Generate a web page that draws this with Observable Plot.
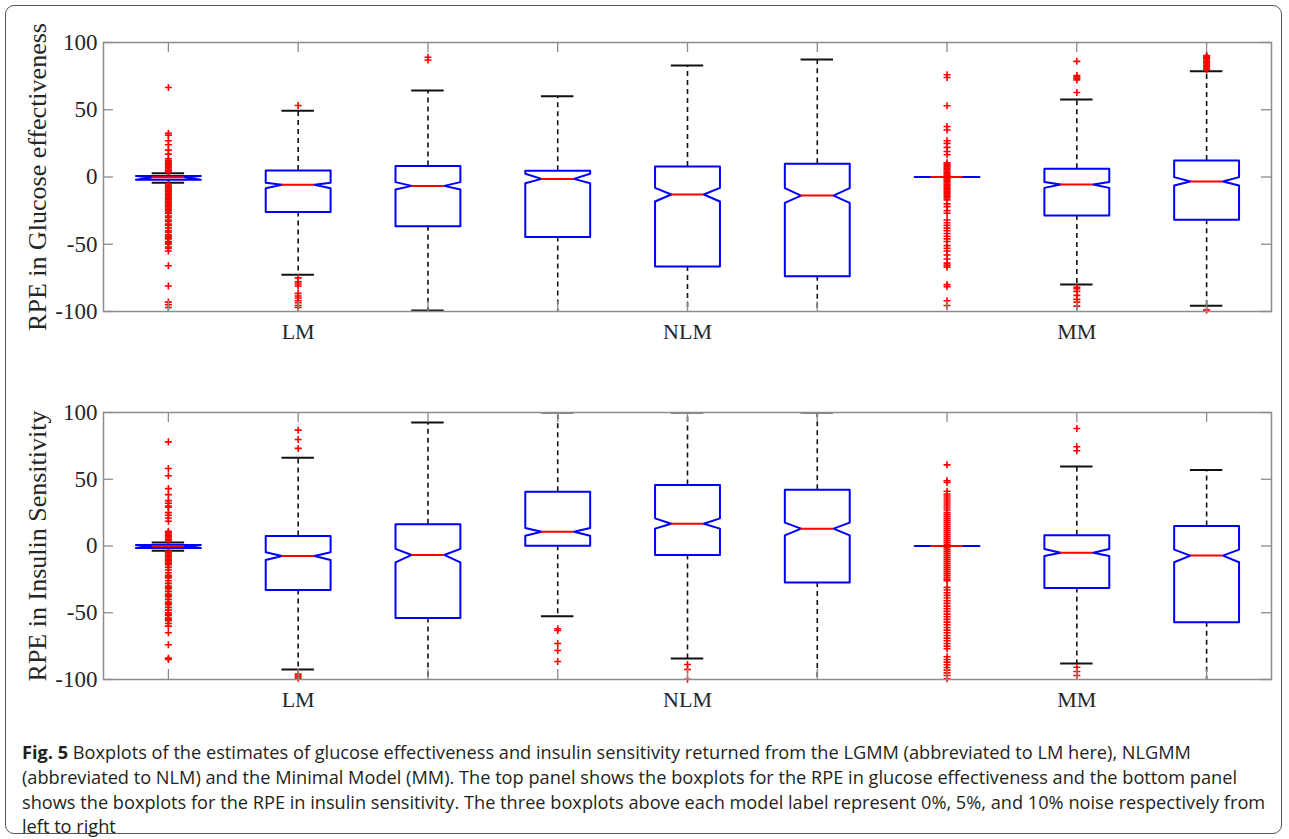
<!DOCTYPE html>
<html><head><meta charset="utf-8">
<script src="https://cdn.jsdelivr.net/npm/d3@7"></script>
<script src="https://cdn.jsdelivr.net/npm/@observablehq/plot@0.6"></script>
<style>
body{margin:0;background:#fff;}
#page{position:relative;width:1289px;height:839px;overflow:hidden;background:#fff;}
#border{position:absolute;left:5px;top:5px;width:1277px;height:829px;border:1.5px solid #555;border-radius:9px;box-sizing:border-box;}
#top,#bottom{position:absolute;left:0;}
#top{top:0}
#bottom{top:370px}
#caption{position:absolute;left:22px;top:740px;font-family:"Open Sans",sans-serif;font-size:18.2px;line-height:24.8px;color:#231f20;white-space:nowrap;}
#caption b{font-weight:700;}
</style></head>
<body><div id="page"><div id="border"></div><div id="top"></div><div id="bottom"></div>
<div id="caption"></div></div>
<script>
// ---------- data ----------
const positions = [1, 2, 3, 4, 5, 6, 7, 8, 9];
const groupTicks = [2, 5, 8];
const groupLabels = ["LM", "NLM", "MM"];
const yTicks = [-100, -50, 0, 50, 100];
const yTitleTop = "RPE in Glucose effectiveness";
const yTitleBottom = "RPE in Insulin Sensitivity";

// Top panel: RPE in glucose effectiveness (LM 0/5/10%, NLM 0/5/10%, MM 0/5/10%)
const geQ3 = [0.7, 4.8, 8.1, 4.6, 7.8, 9.8, 0, 6.1, 12.3];
const geQ1 = [-2.0, -26.1, -36.6, -44.7, -66.5, -73.7, 0, -28.6, -31.8];
const geMedian = [-0.2, -5.8, -6.6, -1.4, -13.0, -13.8, 0, -5.6, -3.3];
const geNotchHi = [0.7, -4.3, -3.8, 2.4, -8.1, -8.3, 0, -3.8, -0.1];
const geNotchLo = [-2.0, -8.3, -9.3, -4.6, -18.2, -19.2, 0, -8.1, -6.3];
const geWhiskerHi = [2.8, 49.2, 64.3, 60.1, 82.9, 87.4, 0, 57.6, 78.7];
const geWhiskerLo = [-4.2, -72.7, -99.3, -101, -101, -101, 0, -79.9, -95.8];
const geOutliers = [
  [66.5, 32.5, 31, 27, 24, 20, 17, 13.5, 12, 11, 10, 9, 8, 7, 6, 5, 4, 3.5, -5, -6, -7, -8, -9, -10, -11, -12, -13, -14, -15, -16, -17, -18, -19, -20, -21, -22, -23, -24, -25, -26, -27, -29, -30, -32, -33, -35, -36, -38, -40, -41, -43, -44, -45, -46, -48, -49, -50, -52, -53, -55, -66, -81, -93, -95, -97],
  [53.2, -75, -78, -79.5, -81, -86.5, -88.5, -90, -92, -93.5, -95.5, -97],
  [87, 89],
  [],
  [],
  [],
  [76, 74, 53, 37.5, 35, 27, 25, 22, 19, 16.5, 10.5, 9.5, 8.5, 7.5, 6.5, 5.5, 4.5, 3.5, 2.5, 1.5, 1, -1, -1.5, -2.5, -3.5, -4.5, -5.5, -6.5, -7.5, -8.5, -9.5, -10.5, -11.5, -12.5, -13.5, -14.5, -15.5, -17, -20, -22, -25, -27, -32, -34, -36, -38, -40, -42, -44, -46, -48, -51, -53, -55, -58, -61, -64, -65.5, -67, -80, -81.5, -92, -95.5],
  [86, 75.5, 74.5, 73.5, 72.2, 62.8, -82, -83, -85, -88, -91, -93, -96],
  [90.3, 89.5, 88.8, 88, 87, 86, 85, 84, 83, 82, 81, 80, 79.5, -98.8]
];

// Bottom panel: RPE in insulin sensitivity
const isQ3 = [0.7, 7.5, 16.2, 40.6, 45.6, 42.1, 0, 8.0, 15.0];
const isQ1 = [-1.5, -32.9, -53.9, 0.2, -6.7, -27.4, 0, -31.4, -57.1];
const isMedian = [-0.2, -7.5, -6.7, 10.7, 16.7, 13.0, 0, -5.0, -7.2];
const isNotchHi = [0.7, -4.7, -2.2, 13.5, 20.7, 17.5, 0, -2.2, -2.7];
const isNotchLo = [-1.5, -10.5, -12.2, 7.7, 13.0, 8.0, 0, -7.5, -12.2];
const isWhiskerHi = [2.7, 66.1, 92.5, 100, 100, 100, 0, 59.6, 56.9];
const isWhiskerLo = [-3.5, -92.5, -101, -52.6, -84.3, -101, 0, -88.0, -101];
const isOutliers = [
  [78, 58, 52.6, 43, 38.5, 34, 32, 30, 29, 25, 23, 21, 18.5, 11, 10, 9, 8, 7, 6, 5, 4, -4, -5, -6, -7, -8, -9, -10, -11, -12, -13, -14, -16, -18, -20, -22, -23, -24, -26, -28, -30, -31, -32, -34, -36, -37, -38, -40, -42, -43, -44, -46, -48, -50, -51, -52, -54, -55, -56, -58, -60, -65, -74, -84, -85],
  [86.8, 79.8, 73.1, -96, -97.5, -99],
  [],
  [-62, -63.3, -73, -78.3, -86.5],
  [-88.8, -92.5, -99.8],
  [],
  [60.8, 48.9, 47.6, 41, 39, 37.5, 36, 34.5, 33, 31.5, 30, 28.5, 27, 25, 23.5, 22, 20.5, 19, 17.5, 16, 14.5, 13, 11.5, 10, 8.5, 7, 5.5, 4, 2.5, 1, -1, -2.5, -4, -5.5, -7, -8.5, -10, -11.5, -13, -14.5, -16, -17.5, -19, -20.5, -22, -23.5, -25, -26, -31, -33, -35, -37, -39, -41, -43, -45, -47, -49, -51, -53, -55, -57, -59, -61, -63, -65, -67, -69, -71, -73, -75, -77, -83, -85, -87, -89, -91, -93, -95, -97, -99.5],
  [88, 74.3, 71.3, -90.8, -94, -97],
  []
];

const captionLines = [
  ["Fig. 5", " Boxplots of the estimates of glucose effectiveness and insulin sensitivity returned from the LGMM (abbreviated to LM here), NLGMM"],
  ["", "(abbreviated to NLM) and the Minimal Model (MM). The top panel shows the boxplots for the RPE in glucose effectiveness and the bottom panel"],
  ["", "shows the boxplots for the RPE in insulin sensitivity. The three boxplots above each model label represent 0%, 5%, and 10% noise respectively from"],
  ["", "left to right"]
];

// ---------- drawing ----------
const W = 1289, mL = 103, mR = 18;
const serif = "'Liberation Serif', 'Times New Roman', serif";
const boxHalf = 0.25;

function panel(el, st, outliers, yTitle, plotH, mT, mB) {
  const plotW = W - mL - mR;
  const tX = 10 / plotW * 9;      // inward tick length in x units
  const tY = 10 / plotH * 200;    // inward tick length in y units
  const boxes = positions.map((p, i) => ({
    pos: p, q1: st.q1[i], q3: st.q3[i], med: st.med[i],
    nlo: st.nlo[i], nhi: st.nhi[i], wlo: st.wlo[i], whi: st.whi[i]
  }));
  const poly = [];
  boxes.forEach((b, i) => {
    const x = b.pos, w = boxHalf;
    [[x - w, b.q1], [x - w, b.nlo], [x - w / 2, b.med], [x - w, b.nhi], [x - w, b.q3],
     [x + w, b.q3], [x + w, b.nhi], [x + w / 2, b.med], [x + w, b.nlo], [x + w, b.q1], [x - w, b.q1]]
      .forEach(([px, py]) => poly.push({id: i, x: px, y: py}));
  });
  const outs = [];
  outliers.forEach((arr, i) => arr.forEach(v => outs.push({pos: positions[i], v})));
  const upper = boxes.filter(b => b.whi > b.q3);
  const lower = boxes.filter(b => b.wlo < b.q1);

  const svg = Plot.plot({
    width: W, height: mT + plotH + mB,
    marginLeft: mL, marginRight: mR, marginTop: mT, marginBottom: mB,
    x: {domain: [0.5, 9.5]},
    y: {domain: [-100, 100]},
    style: {fontFamily: serif, fontSize: "22px", color: "#262626", background: "transparent", overflow: "visible"},
    marks: [
      Plot.ruleX(upper, {x: "pos", y1: "q3", y2: "whi", stroke: "#111", strokeWidth: 1.6, strokeDasharray: "5,4", clip: true}),
      Plot.ruleX(lower, {x: "pos", y1: "q1", y2: "wlo", stroke: "#111", strokeWidth: 1.6, strokeDasharray: "5,4", clip: true}),
      Plot.ruleY(upper, {y: "whi", x1: d => d.pos - boxHalf / 2, x2: d => d.pos + boxHalf / 2, stroke: "#111", strokeWidth: 2, clip: true}),
      Plot.ruleY(lower, {y: "wlo", x1: d => d.pos - boxHalf / 2, x2: d => d.pos + boxHalf / 2, stroke: "#111", strokeWidth: 2, clip: true}),
      Plot.dot(outs, {x: "pos", y: "v", symbol: "plus", r: 2.4, stroke: "#ff0000", strokeWidth: 1.6}),
      Plot.line(poly, {x: "x", y: "y", z: "id", stroke: "#0000ff", strokeWidth: 2, curve: "linear"}),
      Plot.ruleY(boxes, {y: "med", x1: d => d.pos - boxHalf / 2, x2: d => d.pos + boxHalf / 2, stroke: "#ff0000", strokeWidth: 2}),
      Plot.frame({stroke: "#8c8c8c", strokeWidth: 1.5}),
      Plot.ruleY(yTicks, {y: d => d, x1: 0.5, x2: 0.5 + tX, stroke: "#8c8c8c", strokeWidth: 1.3}),
      Plot.ruleY(yTicks, {y: d => d, x1: 9.5 - tX, x2: 9.5, stroke: "#8c8c8c", strokeWidth: 1.3}),
      Plot.ruleX(positions, {x: d => d, y1: 100, y2: 100 - tY, stroke: "#8c8c8c", strokeWidth: 1.3}),
      Plot.ruleX(positions, {x: d => d, y1: -100, y2: -100 + tY, stroke: "#8c8c8c", strokeWidth: 1.3}),
      Plot.axisY(yTicks, {tickSize: 0, tickPadding: 6, tickFormat: d => String(d), label: null, fontSize: 23}),
      Plot.axisX(groupTicks, {tickSize: 0, tickPadding: 12, tickFormat: d => groupLabels[groupTicks.indexOf(d)], label: null, fontSize: 22}),
      Plot.text([yTitle], {text: d => d, frameAnchor: "left", textAnchor: "middle", lineAnchor: "middle", rotate: -90, dx: -66, fontSize: 26, fill: "#262626"})
    ]
  });
  el.appendChild(svg);
}

panel(document.getElementById("top"),
  {q1: geQ1, q3: geQ3, med: geMedian, nlo: geNotchLo, nhi: geNotchHi, wlo: geWhiskerLo, whi: geWhiskerHi},
  geOutliers, yTitleTop, 269, 42, 41);
panel(document.getElementById("bottom"),
  {q1: isQ1, q3: isQ3, med: isMedian, nlo: isNotchLo, nhi: isNotchHi, wlo: isWhiskerLo, whi: isWhiskerHi},
  isOutliers, yTitleBottom, 267, 42, 40);

const cap = document.getElementById("caption");
captionLines.forEach(([b, t]) => {
  const div = document.createElement("div");
  if (b) { const e = document.createElement("b"); e.textContent = b; div.appendChild(e); }
  div.appendChild(document.createTextNode(t));
  cap.appendChild(div);
});
</script>
</body></html>
